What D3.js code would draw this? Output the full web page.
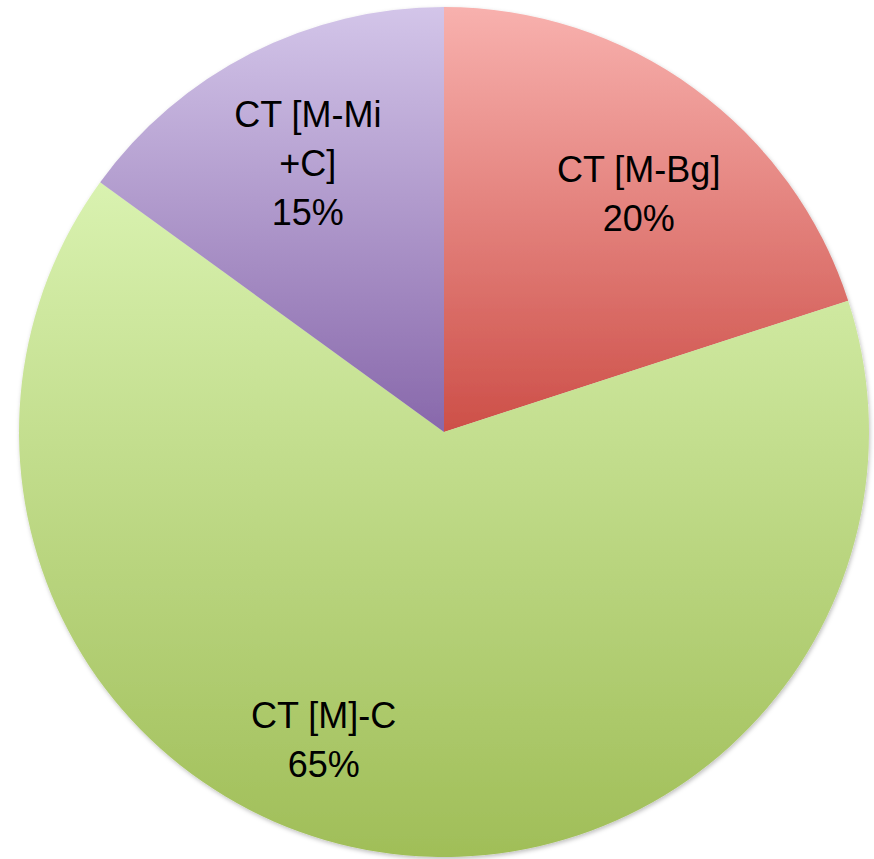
<!DOCTYPE html>
<html>
<head>
<meta charset="utf-8">
<script src="https://cdn.jsdelivr.net/npm/d3@7"></script>
<style>
  html, body { margin: 0; padding: 0; background: #fff; }
  svg { display: block; }
  .label { font-family: "Liberation Sans", "DejaVu Sans", sans-serif; font-size: 36px; fill: #000; }
</style>
</head>
<body>
<svg width="874" height="859"></svg>
<script>
// chart data
const categories = ['CT [M-Bg]', 'CT [M]-C', 'CT [M-Mi+C]'];
const shares = [20, 65, 15];
// label lines as they wrap in the picture
const labelLines = [['CT [M-Bg]', '20%'], ['CT [M]-C', '65%'], ['CT [M-Mi', '+C]', '15%']];
// gradient stops per slice: light top, dark bottom
const topColors = ['#f8b1ae', '#d9f2b0', '#d3c5e9'];
const bottomColors = ['#cd4f48', '#a0be58', '#8868ab'];

const width = 874, height = 859;
const cx = 444, cy = 432, radius = 425;

const svg = d3.select('svg');
const defs = svg.append('defs');

const shadow = defs.append('filter').attr('id', 'shadow')
    .attr('x', '-10%').attr('y', '-10%').attr('width', '120%').attr('height', '120%');
shadow.append('feDropShadow')
    .attr('dx', 1).attr('dy', 2).attr('stdDeviation', 2)
    .attr('flood-color', '#000').attr('flood-opacity', 0.25);

categories.forEach((c, i) => {
    const g = defs.append('linearGradient')
        .attr('id', 'grad' + i)
        .attr('x1', 0).attr('y1', 0).attr('x2', 0).attr('y2', 1);
    g.append('stop').attr('offset', '0%').attr('stop-color', topColors[i]);
    g.append('stop').attr('offset', '100%').attr('stop-color', bottomColors[i]);
});

const pie = d3.pie().sort(null).value(d => d.value);
const arcs = pie(categories.map((c, i) => ({ name: c, value: shares[i] })));

const arc = d3.arc().innerRadius(0).outerRadius(radius);

const g = svg.append('g').attr('transform', 'translate(' + cx + ',' + cy + ')');

g.append('g').attr('filter', 'url(#shadow)')
  .selectAll('path')
  .data(arcs)
  .enter().append('path')
    .attr('d', arc)
    .attr('fill', (d, i) => 'url(#grad' + i + ')');

// label placement: radius and angle shift (degrees) per slice, like the best-fit layout
const labelPlace = [{ r: 298, shift: 4.8 }, { r: 342, shift: 11.6 }, { r: 290, shift: -1 }];
const lineGap = 49;

arcs.forEach((d, i) => {
    const mid = (d.startAngle + d.endAngle) / 2 + labelPlace[i].shift * Math.PI / 180;
    const lx = labelPlace[i].r * Math.sin(mid);
    const ly = -labelPlace[i].r * Math.cos(mid);
    const lines = labelLines[i];
    const t = g.append('text')
        .attr('class', 'label')
        .attr('text-anchor', 'middle')
        .attr('x', lx)
        .attr('y', ly - (lines.length - 1) * lineGap / 2);
    lines.forEach((s, k) => {
        t.append('tspan').attr('x', lx).attr('dy', k === 0 ? 0 : lineGap).text(s);
    });
});
</script>
</body>
</html>
